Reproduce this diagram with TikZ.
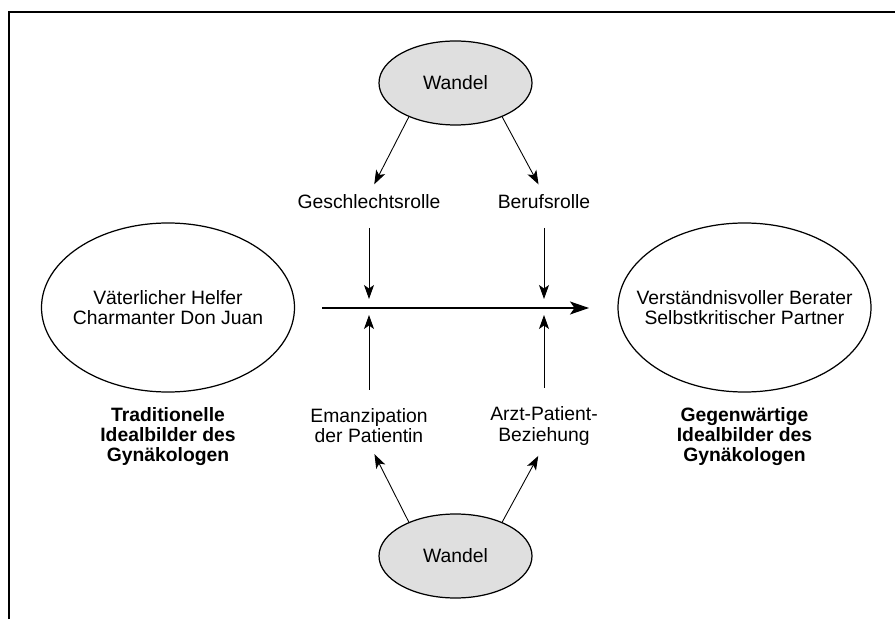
\documentclass[tikz,border=0pt]{standalone}
\usepackage{fontspec}
\setmainfont{Liberation Sans}
\usepackage{tikz}
\usetikzlibrary{
  arrows.meta,
  shapes.geometric
}

\begin{document}
\begin{tikzpicture}[%
        txt/.style={
            align=center,
            inner sep=0pt,
            font=\fontsize{11}{11.4}\selectfont
          },caption/.style={
            txt,
            font=\fontsize{11}{11.4}\selectfont\bfseries
          },ideal/.style={
            draw,
            ellipse,
            line width=0.7pt,
            txt,
            inner xsep=-0.7cm,
            minimum width=5.06cm,
            minimum height=3.38cm
          },wandel/.style={
            draw,
            ellipse,
            fill=gray!25,
            line width=0.7pt,
            txt,
            minimum width=3.06cm,
            minimum height=1.68cm
          },arr/.style={
            -{Stealth[length=0.28cm,width=0.2cm,inset=0.07cm]},
            line width=0.5pt
          },down/.style={
            arr,
            shorten <=0.37cm,
            shorten >=0.18cm
          },up/.style={
            arr,
            shorten <=0.38cm,
            shorten >=0.14cm
          }
      ]

      % Rahmen
      \useasboundingbox (0,0) rectangle (17.9,12.38);
      \draw[line width=0.6pt] (0.18,0) -- (0.18,12.14) -- (17.9,12.14);

      % Idealbilder
      \node[ideal] (trad) at (3.36,6.23) {Väterlicher Helfer\\Charmanter Don Juan};
      \node[ideal] (gegen) at (14.89,6.23) {Verständnisvoller Berater\\Selbstkritischer Partner};
      \node[caption] (trad_cap) at (3.36,3.65) {Traditionelle\\Idealbilder des\\Gynäkologen};
      \node[caption] (gegen_cap) at (14.89,3.65) {Gegenwärtige\\Idealbilder des\\Gynäkologen};

      % Wandel
      \node[wandel] (wandel_top) at (9.11,10.72) {Wandel};
      \node[wandel] (wandel_bot) at (9.11,1.26) {Wandel};

      % Einflussfaktoren
      \node[txt] (geschl) at (7.38,8.34) {Geschlechtsrolle};
      \node[txt] (beruf) at (10.88,8.34) {Berufsrolle};
      \node[txt] (emanz) at (7.38,3.86) {Emanzipation\\der Patientin};
      \node[txt] (arzt) at (10.88,3.86) {Arzt-Patient-\\Beziehung};

      % Koordinaten auf dem Hauptpfeil
      \coordinate (main_start) at (6.44,6.22);
      \coordinate (main_end) at (11.78,6.22);
      \coordinate (hit_left) at (7.38,6.22);
      \coordinate (hit_right) at (10.88,6.22);

      % Hauptpfeil
      \draw[
        -{Stealth[length=0.38cm,width=0.26cm,inset=0.09cm]},
        line width=0.7pt
      ] (main_start) -- (main_end);

      % Pfeile vom Wandel
      \draw[arr,shorten >=0.23cm] (wandel_top.216) -- (geschl.north);
      \draw[arr,shorten >=0.23cm] (wandel_top.324) -- (beruf.north);
      \draw[arr,shorten >=0.24cm] (wandel_bot.144) -- (emanz.south);
      \draw[arr,shorten >=0.24cm] (wandel_bot.36) -- (arzt.south);

      % Pfeile zum Hauptpfeil
      \draw[down] (geschl.south) -- (hit_left);
      \draw[down] (beruf.south) -- (hit_right);
      \draw[up] (emanz.north) -- (hit_left);
      \draw[up] (arzt.north) -- (hit_right);

    \end{tikzpicture}
\end{document}
